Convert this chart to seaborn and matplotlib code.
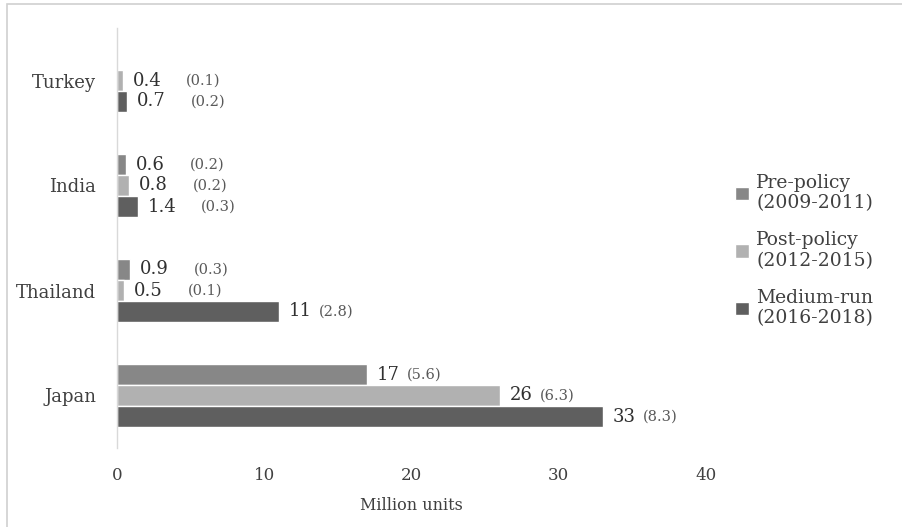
import numpy as np
import pandas as pd
import seaborn as sns
import matplotlib.pyplot as plt
from matplotlib.patches import Rectangle

# data
countries = ["Turkey", "India", "Thailand", "Japan"]
periods = ["Pre-policy\n(2009-2011)", "Post-policy\n(2012-2015)", "Medium-run\n(2016-2018)"]
pre_policy = [np.nan, 0.6, 0.9, 17]
post_policy = [0.4, 0.8, 0.5, 26]
medium_run = [0.7, 1.4, 11, 33]
pre_sd = [np.nan, 0.2, 0.3, 5.6]
post_sd = [0.1, 0.2, 0.1, 6.3]
medium_sd = [0.2, 0.3, 2.8, 8.3]

colors = ["#878787", "#b1b1b1", "#5f5f5f"]

rows = []
for period, vals, sds in zip(periods, [pre_policy, post_policy, medium_run],
                             [pre_sd, post_sd, medium_sd]):
    for c, v, s in zip(countries, vals, sds):
        rows.append({"country": c, "period": period, "value": v, "sd": s})
df = pd.DataFrame(rows)

sns.set_style("white")
plt.rcParams["font.family"] = ["DejaVu Serif"]

fig = plt.figure(figsize=(9.02, 5.27), dpi=100)
ax = fig.add_axes([117 / 902, 1 - 448 / 527, (706 - 117) / 902, 420 / 527])

sns.barplot(data=df, y="country", x="value", hue="period", order=countries,
            hue_order=periods, palette=colors, width=0.6, orient="h",
            saturation=1, ax=ax, err_kws={"linewidth": 0})

ax.set_xlim(0, 40)
ax.set_xticks([0, 10, 20, 30, 40])
ax.set_xlabel("Million units", fontsize=11.5, color="#404040", labelpad=9)
ax.set_ylabel("")
ax.tick_params(axis="x", labelsize=12, colors="#404040", length=0, pad=14)
ax.tick_params(axis="y", labelsize=13, colors="#404040", length=0, pad=15)
for s in ["top", "right", "bottom"]:
    ax.spines[s].set_visible(False)
ax.spines["left"].set_color("#d9d9d9")
ax.spines["left"].set_linewidth(1)

# value labels with the bracketed figure next to them
series = [(pre_policy, pre_sd), (post_policy, post_sd), (medium_run, medium_sd)]
for k, cont in enumerate(ax.containers[:3]):
    vals, sds = series[k]
    for bar in cont:
        j = int(round(bar.get_y() + bar.get_height() / 2))
        v, s = vals[j], sds[j]
        if np.isnan(v):
            continue
        yc = bar.get_y() + bar.get_height() / 2
        t = ax.annotate(f"{v:g}", xy=(v, yc), xytext=(7, 0), textcoords="offset points",
                        va="center", ha="left", fontsize=13, color="#303030")
        gap = 18 if v < 2 else 5
        ax.annotate(f"({s:g})", xy=(1, 0.08), xycoords=t,
                    xytext=(gap, 0), textcoords="offset points",
                    va="bottom", ha="left", fontsize=10.5, color="#595959")

leg = ax.legend(loc="center left", bbox_to_anchor=(1.02, 0.47), frameon=False,
                fontsize=13.5, handlelength=0.75, handleheight=0.75,
                handletextpad=0.4, labelspacing=1.0, labelcolor="#404040")

# light outer chart border
fig.patches.append(Rectangle((7 / 902, -0.1), 1.2, 1.1 - 4 / 527,
                             transform=fig.transFigure, fill=False,
                             edgecolor="#d0d0d0", linewidth=1.2))

fig.savefig("out.png", dpi=100)
